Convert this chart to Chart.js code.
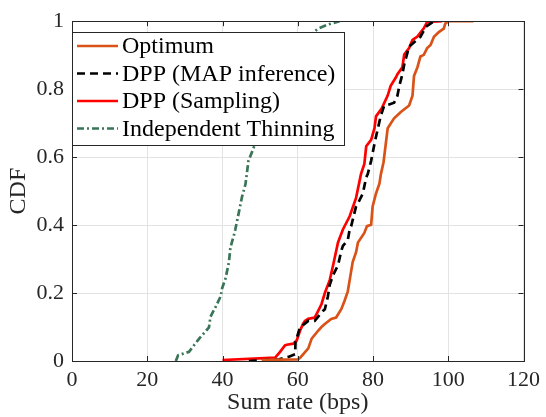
<!DOCTYPE html>
<html>
<head>
<meta charset="utf-8">
<script src="https://cdn.jsdelivr.net/npm/chart.js@4.4.1/dist/chart.umd.min.js"></script>
<style>
html,body{margin:0;padding:0;background:#fff;}
#wrap{width:546px;height:417px;position:relative;}
</style>
</head>
<body>
<div id="wrap"><canvas id="c" width="546" height="417"></canvas></div>
<script>
// ---- data ----
const seriesNames = ["Optimum", "DPP (MAP inference)", "DPP (Sampling)", "Independent Thinning"];

const optX = [50.5, 55, 60, 60.6, 62.8, 63.7, 65.4, 66.3, 67.2, 68.9, 70.2, 71.6, 72.4, 73.3, 73.8, 74.6, 75.5, 76, 77.7, 78.4, 79.5, 79.9, 80.8, 81.7, 82.1, 82.8, 83.9, 85.6, 87.4, 89.6, 90.5, 90.9, 91.8, 92.6, 93.5, 94.4, 95.3, 96.2, 97.5, 98.8, 99.2, 100.1, 106.7];
const optY = [0.003, 0.004, 0.005, 0.009, 0.037, 0.066, 0.089, 0.1, 0.109, 0.124, 0.128, 0.153, 0.176, 0.205, 0.238, 0.291, 0.32, 0.349, 0.377, 0.397, 0.401, 0.455, 0.493, 0.522, 0.55, 0.585, 0.685, 0.714, 0.733, 0.752, 0.781, 0.839, 0.864, 0.896, 0.901, 0.921, 0.93, 0.954, 0.968, 0.978, 0.993, 1.0, 1.0];

const mapX = [47, 55, 57.5, 59.3, 59.4, 60.6, 62.8, 64.5, 66.7, 67.2, 68, 68.5, 69.4, 70.7, 71.6, 72, 73.3, 73.8, 74.2, 75.5, 76, 77.3, 78.2, 78.6, 79.5, 80.4, 81.2, 82.1, 83, 84.3, 85.6, 86.5, 87, 87.8, 88.3, 89.6, 92.6, 93.1, 94, 96.2];
const mapY = [0, 0.005, 0.012, 0.02, 0.056, 0.099, 0.118, 0.118, 0.147, 0.152, 0.19, 0.224, 0.253, 0.282, 0.325, 0.339, 0.356, 0.387, 0.397, 0.455, 0.464, 0.493, 0.541, 0.55, 0.589, 0.64, 0.68, 0.723, 0.752, 0.755, 0.76, 0.781, 0.81, 0.843, 0.873, 0.925, 0.954, 0.964, 0.983, 1.0];

const smpX = [40, 54, 55.3, 56.6, 57.1, 58.8, 59.7, 60.6, 61.4, 61.9, 62.8, 64.5, 65.4, 66.3, 67.2, 68.5, 69.4, 70.7, 72, 73.8, 75.5, 76.8, 77.7, 78.2, 79.5, 80.4, 80.8, 82.3, 83.9, 84.7, 86.1, 86.5, 87.8, 88.3, 89.6, 90.5, 91.8, 93.5, 94.4, 98.4];
const smpY = [0.003, 0.01, 0.027, 0.046, 0.048, 0.051, 0.06, 0.089, 0.109, 0.118, 0.124, 0.128, 0.147, 0.167, 0.2, 0.238, 0.282, 0.349, 0.387, 0.426, 0.48, 0.55, 0.58, 0.632, 0.651, 0.685, 0.72, 0.743, 0.781, 0.81, 0.835, 0.844, 0.864, 0.902, 0.921, 0.945, 0.955, 0.979, 0.998, 1.0];

const indX = [27.6, 28.2, 31.1, 33.8, 36.4, 36.8, 38.2, 39.5, 39.9, 40.8, 41.7, 42.1, 43, 43.4, 44.3, 45.2, 46.1, 46.9, 48.3, 50, 52, 54, 56, 58, 60, 62.2, 65.4, 68, 71.1];
const indY = [0, 0.017, 0.027, 0.066, 0.099, 0.13, 0.16, 0.19, 0.214, 0.243, 0.29, 0.334, 0.369, 0.387, 0.435, 0.484, 0.52, 0.589, 0.628, 0.68, 0.74, 0.8, 0.85, 0.895, 0.925, 0.949, 0.978, 0.99, 1.0];

const xTicks = [0, 20, 40, 60, 80, 100, 120];
const yTicks = [0, 0.2, 0.4, 0.6, 0.8, 1];
const yTickLabels = ["0", "0.2", "0.4", "0.6", "0.8", "1"];

// ---- styles ----
const FONT = "'Liberation Serif', 'Times New Roman', serif";
const colors = ["#D95319", "#000000", "#FF0000", "#3A7557"];
const dashes = [[], [8, 5], [], [7, 3, 2, 3]];

function pts(xs, ys) { return xs.map((x, i) => ({x: x, y: ys[i]})); }
const allData = [pts(optX, optY), pts(mapX, mapY), pts(smpX, smpY), pts(indX, indY)];

const datasets = allData.map((d, i) => ({
  label: seriesNames[i],
  data: d,
  borderColor: colors[i],
  borderWidth: 2.7,
  borderDash: dashes[i],
  pointRadius: 0,
  tension: 0,
  fill: false
}));

const framePlugin = {
  id: 'frame',
  afterDraw(chart) {
    const ctx = chart.ctx;
    const a = chart.chartArea;
    const xs = chart.scales.x, ys = chart.scales.y;
    ctx.save();
    ctx.strokeStyle = '#262626';
    ctx.lineWidth = 1;
    ctx.setLineDash([]);
    ctx.strokeRect(Math.round(a.left) + 0.5, Math.round(a.top) + 0.5, Math.round(a.right - a.left), Math.round(a.bottom - a.top));
    const tl = 5;
    ctx.beginPath();
    xTicks.forEach(v => {
      const p = Math.round(xs.getPixelForValue(v)) + 0.5;
      ctx.moveTo(p, a.bottom); ctx.lineTo(p, a.bottom - tl);
      ctx.moveTo(p, a.top); ctx.lineTo(p, a.top + tl);
    });
    yTicks.forEach(v => {
      const p = Math.round(ys.getPixelForValue(v)) + 0.5;
      ctx.moveTo(a.left, p); ctx.lineTo(a.left + tl, p);
      ctx.moveTo(a.right, p); ctx.lineTo(a.right - tl, p);
    });
    ctx.stroke();

    // legend box
    const lx = a.left + 0.5, ly = 32.5, lw = 272, lh = 113;
    ctx.fillStyle = '#ffffff';
    ctx.fillRect(lx, ly, lw, lh);
    ctx.strokeStyle = '#262626';
    ctx.lineWidth = 1;
    ctx.strokeRect(lx, ly, lw, lh);
    const rowY = [46, 73.5, 101, 128.5];
    ctx.font = "24px " + FONT;
    ctx.textBaseline = 'middle';
    ctx.textAlign = 'left';
    seriesNames.forEach((n, i) => {
      ctx.strokeStyle = colors[i];
      ctx.lineWidth = 2.7;
      ctx.setLineDash(dashes[i]);
      ctx.beginPath();
      ctx.moveTo(77, rowY[i]); ctx.lineTo(118, rowY[i]);
      ctx.stroke();
      ctx.setLineDash([]);
      ctx.fillStyle = '#000';
      ctx.fillText(n, 122, rowY[i] + 1);
    });
    ctx.restore();
  }
};

new Chart(document.getElementById('c'), {
  type: 'line',
  data: { datasets: datasets },
  options: {
    responsive: false,
    animation: false,
    parsing: true,
    layout: { padding: { top: 14, right: 18, left: 0, bottom: 0 } },
    plugins: { legend: { display: false }, tooltip: { enabled: false } },
    scales: {
      x: {
        type: 'linear', min: 0, max: 120,
        afterBuildTicks(s) { s.ticks = xTicks.map(v => ({value: v})); },
        afterFit(s) { s.height = 56; },
        grid: { color: '#e3e3e3', lineWidth: 1, drawTicks: false },
        border: { display: false },
        ticks: { font: { family: FONT, size: 22 }, color: '#262626', padding: 6, maxRotation: 0 },
        title: { display: true, text: 'Sum rate (bps)', font: { family: FONT, size: 24 }, color: '#262626', padding: { top: 0, bottom: 0 } }
      },
      y: {
        type: 'linear', min: 0, max: 1,
        afterBuildTicks(s) { s.ticks = yTicks.map(v => ({value: v})); },
        afterFit(s) { s.width = 72; },
        grid: { color: '#e3e3e3', lineWidth: 1, drawTicks: false },
        border: { display: false },
        ticks: { font: { family: FONT, size: 22 }, color: '#262626', padding: 8,
          callback: (v) => { const i = yTicks.indexOf(v); return i >= 0 ? yTickLabels[i] : ''; } },
        title: { display: true, text: 'CDF', font: { family: FONT, size: 24 }, color: '#262626', padding: { top: 4, bottom: 0 } }
      }
    }
  },
  plugins: [framePlugin]
});
</script>
</body>
</html>
